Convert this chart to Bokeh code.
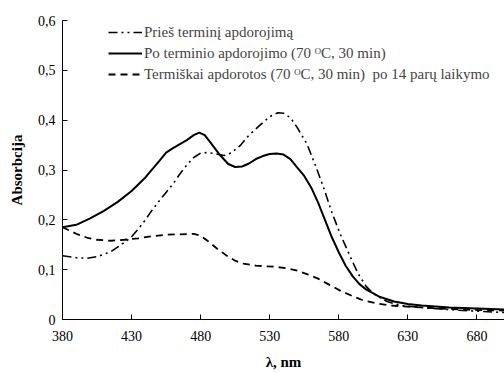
from bokeh.plotting import figure
from bokeh.models import FixedTicker, CustomJSTickFormatter, Legend, LegendItem, Range1d
from bokeh.embed import file_html
from bokeh.resources import INLINE

# Prieš terminį apdorojimą
wl_a = [380, 390, 398, 405, 415, 425, 430, 435, 440, 445, 450, 455, 460, 465, 470, 475, 480, 485, 490, 497,
        502, 509, 515, 523, 530, 536, 540, 545, 550, 557, 563, 569, 575, 581, 588, 594, 600, 605, 615, 625,
        640, 654, 670, 685, 700]
abs_a = [0.128, 0.124, 0.123, 0.126, 0.136, 0.155, 0.166, 0.182, 0.200, 0.220, 0.238, 0.255, 0.272, 0.292,
         0.310, 0.325, 0.334, 0.335, 0.333, 0.329, 0.334, 0.350, 0.370, 0.390, 0.407, 0.415, 0.414, 0.405,
         0.385, 0.352, 0.310, 0.265, 0.215, 0.172, 0.128, 0.092, 0.066, 0.052, 0.036, 0.028, 0.024, 0.021,
         0.018, 0.016, 0.014]

# Po terminio apdorojimo (70 °C, 30 min)
wl_b = [380, 390, 400, 410, 420, 430, 440, 450, 455, 460, 465, 470, 475, 479, 483, 488, 494, 500, 505, 510,
        515, 520, 525, 530, 535, 540, 545, 550, 555, 560, 565, 570, 575, 580, 585, 590, 595, 600, 610, 620,
        630, 640, 650, 660, 670, 680, 690, 700]
abs_b = [0.185, 0.190, 0.203, 0.218, 0.236, 0.258, 0.285, 0.318, 0.335, 0.344, 0.352, 0.360, 0.370, 0.375,
         0.370, 0.352, 0.330, 0.312, 0.306, 0.307, 0.313, 0.322, 0.328, 0.332, 0.333, 0.331, 0.322, 0.305,
         0.288, 0.265, 0.235, 0.200, 0.165, 0.135, 0.108, 0.087, 0.071, 0.060, 0.045, 0.036, 0.031, 0.028,
         0.026, 0.024, 0.023, 0.022, 0.021, 0.020]

# Termiškai apdorotos (70 °C, 30 min) po 14 parų laikymo
wl_c = [380, 390, 398, 405, 415, 425, 435, 445, 455, 465, 475, 480, 485, 492, 499, 505, 511, 520, 533, 542,
        550, 558, 565, 573, 581, 590, 598, 608, 618, 635, 654, 680, 700]
abs_c = [0.185, 0.172, 0.164, 0.160, 0.158, 0.160, 0.163, 0.167, 0.170, 0.171, 0.172, 0.168, 0.158, 0.142,
         0.128, 0.118, 0.112, 0.108, 0.106, 0.103, 0.098, 0.090, 0.082, 0.070, 0.058, 0.047, 0.038, 0.032,
         0.028, 0.025, 0.022, 0.019, 0.018]

labels = ["Prieš terminį apdorojimą",
          "Po terminio apdorojimo (70 \u1d3cC, 30 min)",
          "Termiškai apdorotos (70 \u1d3cC, 30 min)  po 14 parų laikymo"]
x_ticks = [380, 430, 480, 530, 580, 630, 680]
y_ticks = [0, 0.1, 0.2, 0.3, 0.4, 0.5, 0.6]

FONT = "'Liberation Serif', 'DejaVu Serif', serif"

p = figure(width=504, height=373, output_backend="svg", toolbar_location=None,
           x_range=Range1d(380, 700), y_range=Range1d(0, 0.6),
           min_border_left=62, min_border_right=0, min_border_top=20, min_border_bottom=54)
p.outline_line_color = None
p.xgrid.visible = False
p.ygrid.visible = False
p.background_fill_color = "white"

ra = p.line(wl_a, abs_a, line_color="black", line_width=1.6, line_dash="9 4 2 4 2 4")
rb = p.line(wl_b, abs_b, line_color="black", line_width=2)
rc = p.line(wl_c, abs_c, line_color="black", line_width=1.8, line_dash="7 5")

for ax in (p.xaxis[0], p.yaxis[0]):
    ax.axis_line_color = "black"
    ax.major_tick_line_color = "black"
    ax.minor_tick_line_color = None
    ax.major_tick_in = 5
    ax.major_tick_out = 0
    ax.major_label_text_font = FONT
    ax.major_label_text_font_size = "14px"
    ax.major_label_text_color = "black"
    ax.axis_label_text_font = FONT
    ax.axis_label_text_font_style = "bold"
    ax.axis_label_text_font_size = "15px"
    ax.axis_label_text_color = "black"

p.xaxis.ticker = FixedTicker(ticks=x_ticks)
p.yaxis.ticker = FixedTicker(ticks=y_ticks)
p.yaxis.formatter = CustomJSTickFormatter(code="return tick === 0 ? '0' : tick.toFixed(1).replace('.', ',');")
p.xaxis.axis_label = "λ, nm"
p.yaxis.axis_label = "Absorbcija"
p.xaxis.major_label_standoff = 11
p.xaxis.axis_label_standoff = 10
p.yaxis.major_label_standoff = 7
p.yaxis.axis_label_standoff = 10

legend = Legend(items=[LegendItem(label=labels[0], renderers=[ra]),
                       LegendItem(label=labels[1], renderers=[rb]),
                       LegendItem(label=labels[2], renderers=[rc])],
                location=(46, 235), padding=0, margin=0, spacing=1,
                glyph_width=34, glyph_height=20, label_standoff=2,
                label_text_font=FONT, label_text_font_size="15px", label_height=20,
                border_line_color=None, background_fill_alpha=0)
p.add_layout(legend)

open("out.html", "w").write(file_html(p, INLINE))
